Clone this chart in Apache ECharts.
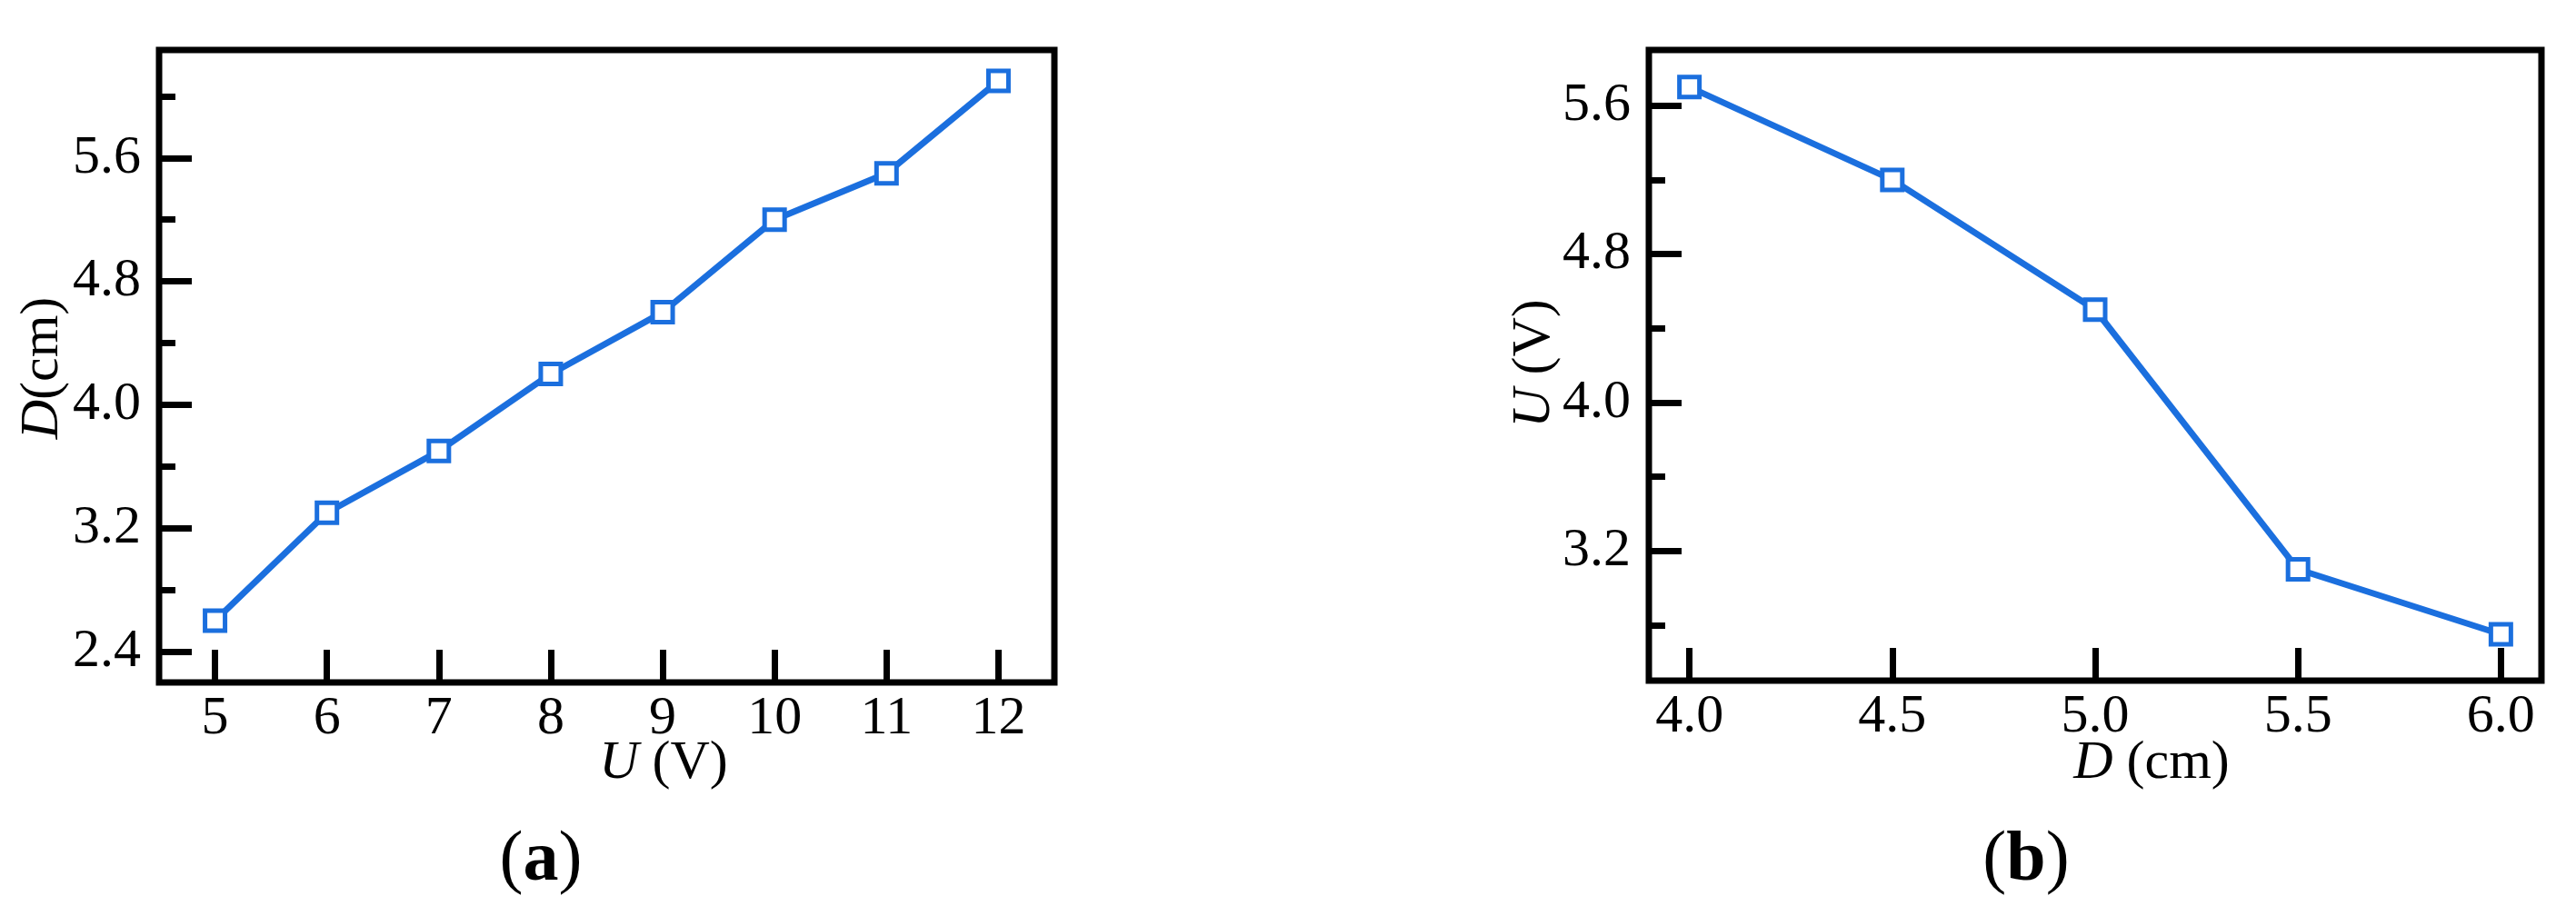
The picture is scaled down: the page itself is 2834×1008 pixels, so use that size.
<!DOCTYPE html>
<html>
<head>
<meta charset="utf-8">
<script src="https://cdn.jsdelivr.net/npm/echarts@6/dist/echarts.min.js"></script>
<style>
  html, body { margin: 0; padding: 0; background: #fff; }
  #chart { width: 2834px; height: 1008px; }
</style>
</head>
<body>
<div id="chart"></div>
<script>
// ---- Panel (a): D vs U ----
const uA = [5, 6, 7, 8, 9, 10, 11, 12];
const dA = [2.6, 3.3, 3.7, 4.2, 4.6, 5.2, 5.5, 6.1];
const aXTicks = [5, 6, 7, 8, 9, 10, 11, 12];
const aYMajor = [2.4, 3.2, 4.0, 4.8, 5.6];
const aYMinor = [2.8, 3.6, 4.4, 5.2, 6.0];

// ---- Panel (b): U vs D ----
const dB = [4.0, 4.5, 5.0, 5.5, 6.0];
const uB = [5.7, 5.2, 4.5, 3.1, 2.75];
const bXTicks = [4.0, 4.5, 5.0, 5.5, 6.0];
const bYMajor = [3.2, 4.0, 4.8, 5.6];
const bYMinor = [2.8, 3.6, 4.4, 5.2];

const FONT = '"Liberation Serif", "Times New Roman", serif';
const BLUE = '#1b6fde';

function xAxisFor(gridIndex, min, max, ticks, decimals) {
  return {
    type: 'value', gridIndex, min, max,
    axisLine: { show: false },
    splitLine: { show: false },
    axisTick: { show: true, inside: true, length: 36, customValues: ticks,
                lineStyle: { color: '#000', width: 7 } },
    axisLabel: { show: true, customValues: ticks, margin: 10,
                 color: '#000', fontFamily: FONT, fontSize: 60,
                 formatter: v => Number(v).toFixed(decimals) }
  };
}
function yAxisMajor(gridIndex, min, max, ticks) {
  return {
    type: 'value', gridIndex, min, max,
    axisLine: { show: false },
    splitLine: { show: false },
    axisTick: { show: true, inside: true, length: 36, customValues: ticks,
                lineStyle: { color: '#000', width: 7 } },
    axisLabel: { show: true, customValues: ticks, margin: 20,
                 color: '#000', fontFamily: FONT, fontSize: 60,
                 formatter: v => Number(v).toFixed(1) }
  };
}
function yAxisMinor(gridIndex, min, max, ticks) {
  return {
    type: 'value', gridIndex, min, max,
    position: 'left', offset: 0,
    axisLine: { show: false },
    splitLine: { show: false },
    axisTick: { show: true, inside: true, length: 18, customValues: ticks,
                lineStyle: { color: '#000', width: 7 } },
    axisLabel: { show: false }
  };
}

const chart = echarts.init(document.getElementById('chart'), null, { renderer: 'canvas' });

const italic = { i: { fontStyle: 'italic', fontFamily: FONT, fontSize: 60 } };

const option = {
  backgroundColor: '#fff',
  animation: false,
  grid: [
    { left: 175, top: 55, width: 985, height: 696, show: true,
      borderColor: '#000', borderWidth: 7, backgroundColor: 'transparent' },
    { left: 1814, top: 55, width: 982, height: 694, show: true,
      borderColor: '#000', borderWidth: 7, backgroundColor: 'transparent' }
  ],
  xAxis: [
    xAxisFor(0, 4.5, 12.5, aXTicks, 0),
    xAxisFor(1, 3.9, 6.1, bXTicks, 1)
  ],
  yAxis: [
    yAxisMajor(0, 2.2, 6.3, aYMajor),
    yAxisMinor(0, 2.2, 6.3, aYMinor),
    yAxisMajor(1, 2.5, 5.9, bYMajor),
    yAxisMinor(1, 2.5, 5.9, bYMinor)
  ],
  series: [
    {
      type: 'line', xAxisIndex: 0, yAxisIndex: 0,
      data: uA.map((u, i) => [u, dA[i]]),
      symbol: 'rect', symbolSize: 22,
      lineStyle: { color: BLUE, width: 7 },
      itemStyle: { color: '#fff', borderColor: BLUE, borderWidth: 5 },
      clip: false, z: 5
    },
    {
      type: 'line', xAxisIndex: 1, yAxisIndex: 2,
      data: dB.map((d, i) => [d, uB[i]]),
      symbol: 'rect', symbolSize: 22,
      lineStyle: { color: BLUE, width: 7 },
      itemStyle: { color: '#fff', borderColor: BLUE, borderWidth: 5 },
      clip: false, z: 5
    }
  ],
  graphic: [
    { type: 'text', x: 730, y: 840,
      style: { text: '{i|U} (V)', fontFamily: FONT, fontSize: 60, fill: '#000',
               align: 'center', verticalAlign: 'middle', rich: italic } },
    { type: 'text', x: 47, y: 405, rotation: Math.PI / 2,
      style: { text: '{i|D}(cm)', fontFamily: FONT, fontSize: 60, fill: '#000',
               align: 'center', verticalAlign: 'middle', rich: italic } },
    { type: 'text', x: 595, y: 948,
      style: { text: '({b|a})', fontFamily: FONT, fontSize: 78, fill: '#000',
               align: 'center', verticalAlign: 'middle',
               rich: { b: { fontWeight: 'bold', fontFamily: FONT, fontSize: 78 } } } },
    { type: 'text', x: 2367, y: 840,
      style: { text: '{i|D} (cm)', fontFamily: FONT, fontSize: 60, fill: '#000',
               align: 'center', verticalAlign: 'middle', rich: italic } },
    { type: 'text', x: 1688, y: 400, rotation: Math.PI / 2,
      style: { text: '{i|U} (V)', fontFamily: FONT, fontSize: 60, fill: '#000',
               align: 'center', verticalAlign: 'middle', rich: italic } },
    { type: 'text', x: 2229, y: 948,
      style: { text: '({b|b})', fontFamily: FONT, fontSize: 78, fill: '#000',
               align: 'center', verticalAlign: 'middle',
               rich: { b: { fontWeight: 'bold', fontFamily: FONT, fontSize: 78 } } } }
  ]
};
chart.setOption(option);
</script>
</body>
</html>
